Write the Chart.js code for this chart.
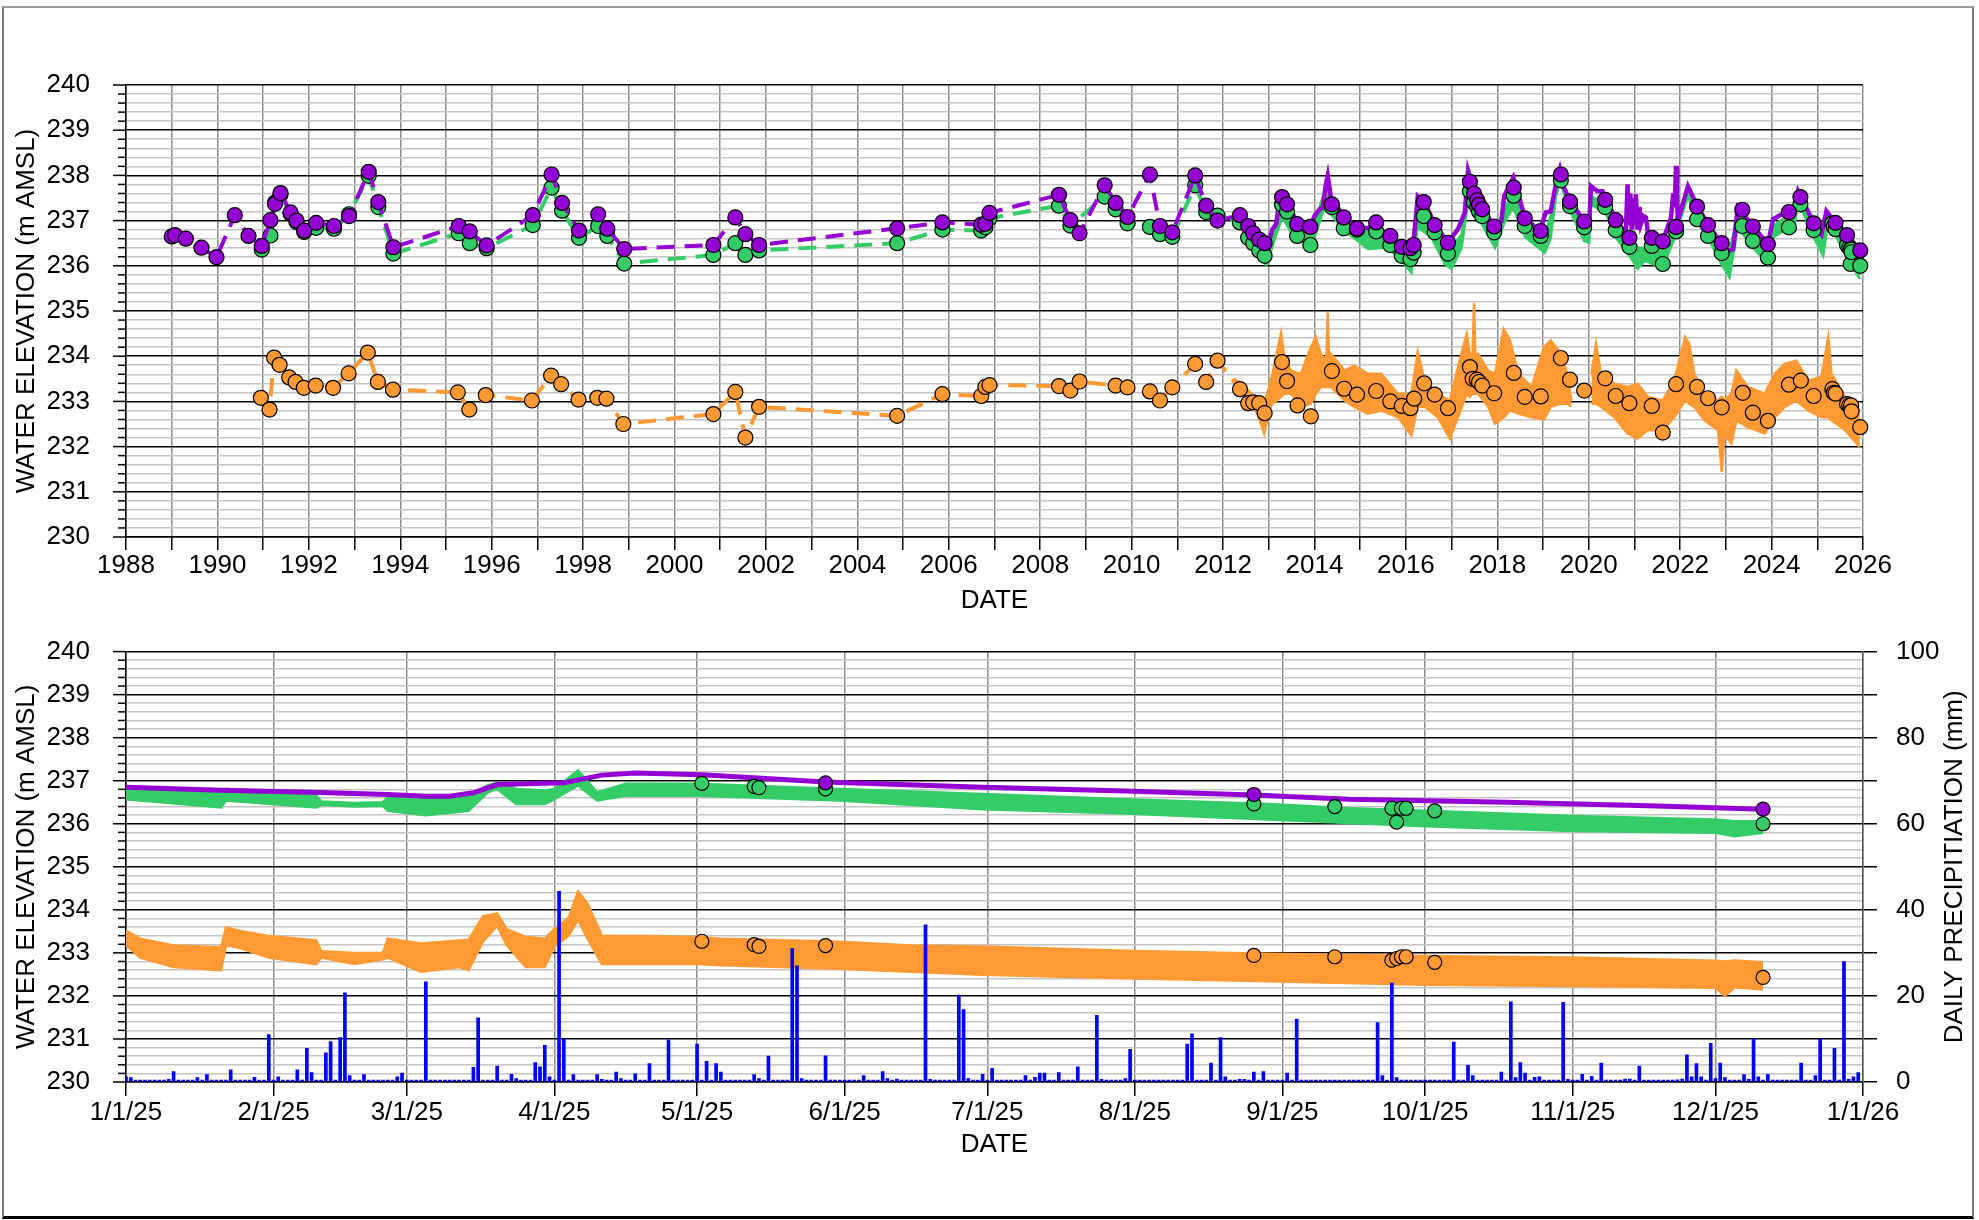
<!DOCTYPE html>
<html>
<head>
<meta charset="utf-8">
<script src="https://cdn.jsdelivr.net/npm/chart.js@4.4.1/dist/chart.umd.min.js"></script>
<style>
html,body{margin:0;padding:0;background:#fff;}
#wrap{position:relative;width:1979px;height:1220px;overflow:hidden;background:#fff;}
#frame{position:absolute;left:2px;top:6px;width:1972px;height:1213px;border-left:2px solid #7a7a7a;border-top:2px solid #9a9a9a;border-right:2px solid #7a7a7a;border-bottom:3px solid #000;box-sizing:border-box;}
canvas{position:absolute;left:0;}
#c1{top:0;}
#c2{top:600px;}
</style>
</head>
<body>
<div id="wrap">
<div id="frame"></div>
<canvas id="c1" width="1979" height="620"></canvas>
<canvas id="c2" width="1979" height="570"></canvas>
</div>
<script>
// ---------------- DATA ----------------
const topYearTicks = [1988,1989,1990,1991,1992,1993,1994,1995,1996,1997,1998,1999,2000,2001,2002,2003,2004,2005,2006,2007,2008,2009,2010,2011,2012,2013,2014,2015,2016,2017,2018,2019,2020,2021,2022,2023,2024,2025,2026];
const monthStartDays = [0,31,59,90,120,151,181,212,243,273,304,334,365];
const monthLabels = ['1/1/25','2/1/25','3/1/25','4/1/25','5/1/25','6/1/25','7/1/25','8/1/25','9/1/25','10/1/25','11/1/25','12/1/25','1/1/26'];
const precipTicks = [0,10,20,30,40,50,60,70,80,90,100];

// manual measurements [decimal year, elevation]
const purpleManual = [[1989.0,236.65],[1989.07,236.68],[1989.31,236.6],[1989.65,236.4],[1989.98,236.19],[1990.38,237.12],[1990.68,236.66],[1990.97,236.44],[1991.16,237.01],[1991.26,237.37],[1991.38,237.61],[1991.6,237.18],[1991.73,237.0],[1991.9,236.78],[1992.16,236.95],[1992.55,236.88],[1992.88,237.1],[1993.31,238.08],[1993.52,237.41],[1993.85,236.41],[1995.28,236.88],[1995.52,236.76],[1995.89,236.45],[1996.9,237.12],[1997.31,238.02],[1997.54,237.39],[1997.91,236.78],[1998.33,237.14],[1998.53,236.82],[1998.9,236.37],[2000.85,236.46],[2001.33,237.07],[2001.55,236.7],[2001.85,236.46],[2004.87,236.83],[2005.86,236.96],[2006.71,236.91],[2006.8,236.93],[2006.89,237.17],[2008.41,237.57],[2008.66,237.01],[2008.86,236.72],[2009.41,237.78],[2009.65,237.39],[2009.91,237.08],[2010.4,238.02],[2010.62,236.88],[2010.89,236.74],[2011.39,238.0],[2011.63,237.33],[2011.88,237.0],[2012.37,237.12],[2012.55,236.88],[2012.66,236.72],[2012.79,236.58],[2012.91,236.5],[2013.29,237.52],[2013.4,237.36],[2013.62,236.92],[2013.91,236.86],[2014.38,237.36],[2014.64,237.07],[2014.93,236.83],[2015.35,236.96],[2015.66,236.66],[2015.91,236.42],[2016.1,236.39],[2016.17,236.46],[2016.39,237.41],[2016.63,236.9],[2016.92,236.51],[2017.4,237.86],[2017.49,237.6],[2017.56,237.45],[2017.6,237.35],[2017.67,237.25],[2017.93,236.87],[2018.36,237.73],[2018.6,237.05],[2018.95,236.77],[2019.39,238.02],[2019.59,237.42],[2019.9,236.98],[2020.36,237.46],[2020.59,237.01],[2020.89,236.62],[2021.38,236.62],[2021.62,236.54],[2021.91,236.86],[2022.37,237.31],[2022.61,236.9],[2022.91,236.5],[2023.36,237.24],[2023.59,236.87],[2023.92,236.48],[2024.38,237.19],[2024.63,237.52],[2024.92,236.94],[2025.40,236.95],[2025.65,236.68],[2025.94,236.34]];
const greenManual = [[1990.97,236.36],[1991.16,236.67],[1991.26,237.4],[1991.38,237.58],[1991.6,237.15],[1991.73,236.97],[1991.9,236.75],[1992.16,236.84],[1992.55,236.82],[1992.88,237.14],[1993.31,237.99],[1993.52,237.3],[1993.85,236.27],[1995.28,236.72],[1995.52,236.5],[1995.89,236.39],[1996.9,236.9],[1997.31,237.73],[1997.54,237.22],[1997.91,236.62],[1998.33,236.88],[1998.53,236.66],[1998.9,236.05],[2000.85,236.24],[2001.33,236.5],[2001.55,236.24],[2001.85,236.34],[2004.87,236.5],[2005.86,236.8],[2006.71,236.78],[2006.8,236.85],[2006.89,237.05],[2008.41,237.33],[2008.66,236.89],[2009.41,237.53],[2009.65,237.25],[2009.91,236.94],[2010.4,236.86],[2010.62,236.7],[2010.89,236.64],[2011.39,237.78],[2011.63,237.19],[2011.88,237.11],[2012.37,236.96],[2012.55,236.62],[2012.66,236.5],[2012.79,236.34],[2012.91,236.22],[2013.29,237.35],[2013.4,237.2],[2013.62,236.66],[2013.91,236.46],[2014.38,237.3],[2014.64,236.83],[2014.93,236.8],[2015.35,236.76],[2015.66,236.46],[2015.91,236.22],[2016.1,236.15],[2016.17,236.29],[2016.39,237.1],[2016.63,236.74],[2016.92,236.27],[2017.4,237.65],[2017.49,237.4],[2017.56,237.3],[2017.6,237.2],[2017.67,237.1],[2017.93,236.74],[2018.36,237.55],[2018.6,236.88],[2018.95,236.66],[2019.39,237.89],[2019.59,237.32],[2019.9,236.85],[2020.36,237.3],[2020.59,236.79],[2020.89,236.42],[2021.38,236.44],[2021.62,236.04],[2021.91,236.76],[2022.37,237.03],[2022.61,236.66],[2022.91,236.28],[2023.36,236.88],[2023.59,236.55],[2023.92,236.18],[2024.38,236.85],[2024.63,237.36],[2024.92,236.79],[2025.33,236.94],[2025.36,236.87],[2025.40,236.81],[2025.65,236.46],[2025.70,236.4],[2025.73,236.36],[2025.73,236.04],[2025.74,236.36],[2025.75,236.3],[2025.94,236.0]];
const orangeManual = [[1990.95,233.08],[1991.14,232.82],[1991.24,233.97],[1991.36,233.81],[1991.57,233.53],[1991.71,233.43],[1991.89,233.3],[1992.15,233.35],[1992.53,233.3],[1992.87,233.62],[1993.29,234.08],[1993.51,233.43],[1993.84,233.26],[1995.26,233.2],[1995.51,232.82],[1995.87,233.14],[1996.88,233.02],[1997.3,233.57],[1997.52,233.38],[1997.9,233.04],[1998.31,233.08],[1998.51,233.06],[1998.88,232.5],[2000.85,232.72],[2001.33,233.21],[2001.55,232.2],[2001.85,232.88],[2004.87,232.68],[2005.86,233.16],[2006.71,233.12],[2006.8,233.32],[2006.89,233.36],[2008.41,233.34],[2008.66,233.24],[2008.86,233.44],[2009.65,233.35],[2009.91,233.31],[2010.4,233.22],[2010.62,233.02],[2010.89,233.31],[2011.39,233.83],[2011.63,233.43],[2011.88,233.9],[2012.37,233.27],[2012.55,232.96],[2012.66,232.98],[2012.79,232.96],[2012.91,232.74],[2013.29,233.87],[2013.4,233.45],[2013.63,232.91],[2013.92,232.67],[2014.38,233.67],[2014.65,233.28],[2014.93,233.15],[2015.35,233.23],[2015.66,233.0],[2015.91,232.9],[2016.1,232.85],[2016.18,233.06],[2016.4,233.4],[2016.63,233.15],[2016.92,232.85],[2017.4,233.76],[2017.46,233.5],[2017.55,233.48],[2017.6,233.43],[2017.67,233.35],[2017.93,233.18],[2018.36,233.63],[2018.6,233.1],[2018.95,233.11],[2019.39,233.96],[2019.59,233.48],[2019.9,233.24],[2020.36,233.51],[2020.59,233.12],[2020.89,232.96],[2021.38,232.9],[2021.62,232.31],[2021.91,233.38],[2022.37,233.32],[2022.61,233.07],[2022.91,232.87],[2023.37,233.19],[2023.59,232.75],[2023.92,232.57],[2024.38,233.37],[2024.64,233.46],[2024.92,233.12],[2025.33,233.27],[2025.36,233.19],[2025.40,233.17],[2025.65,232.94],[2025.70,232.91],[2025.73,232.85],[2025.74,232.91],[2025.75,232.78],[2025.94,232.43]];

// continuous logger records 2012-2025
const purpleLogger = [[2013.01,236.55],[2013.08,236.81],[2013.16,236.92],[2013.23,237.40],[2013.30,237.54],[2013.49,237.21],[2013.63,236.96],[2013.92,236.88],[2014.00,237.10],[2014.11,237.25],[2014.18,237.29],[2014.25,237.80],[2014.29,237.99],[2014.36,237.51],[2014.66,237.07],[2014.95,236.85],[2015.17,236.83],[2015.31,236.96],[2015.53,236.74],[2015.83,236.51],[2016.05,236.40],[2016.16,236.44],[2016.26,237.54],[2016.41,237.40],[2016.63,236.92],[2016.92,236.51],[2017.14,236.81],[2017.29,237.18],[2017.36,238.10],[2017.51,237.58],[2017.65,237.29],[2017.95,236.87],[2018.09,236.99],[2018.15,237.54],[2018.35,237.95],[2018.61,237.05],[2018.93,236.77],[2019.06,237.18],[2019.17,237.21],[2019.28,237.80],[2019.37,238.13],[2019.46,237.73],[2019.59,237.43],[2019.90,236.99],[2020.01,236.92],[2020.05,237.76],[2020.19,237.65],[2020.30,237.65],[2020.38,237.47],[2020.59,237.03],[2020.81,236.70],[2020.85,237.80],[2020.88,236.90],[2020.91,237.60],[2020.94,236.80],[2020.97,237.50],[2021.00,236.90],[2021.03,237.58],[2021.07,236.80],[2021.11,237.30],[2021.14,236.92],[2021.20,237.10],[2021.25,237.07],[2021.30,236.70],[2021.36,236.62],[2021.44,236.40],[2021.62,236.55],[2021.80,237.07],[2021.85,237.60],[2021.88,237.30],[2021.91,238.21],[2021.93,237.50],[2021.95,236.99],[2022.17,237.76],[2022.39,237.29],[2022.61,236.92],[2022.90,236.48],[2023.05,236.33],[2023.16,236.37],[2023.26,237.29],[2023.59,236.88],[2023.92,236.48],[2024.03,237.03],[2024.29,237.18],[2024.51,237.32],[2024.58,237.65],[2024.92,236.96],[2025.09,236.70],[2025.20,237.21],[2025.37,236.99],[2025.61,236.70],[2025.93,236.37]];
// [decimal year, upper envelope, lower envelope]
const greenLogger = [[2012.83,236.48,236.18],[2012.94,236.44,236.02],[2013.05,236.51,236.33],[2013.19,236.88,236.77],[2013.30,237.40,237.07],[2013.56,236.99,236.62],[2013.85,236.77,236.48],[2014.00,236.92,236.62],[2014.22,237.65,237.29],[2014.29,238.06,237.65],[2014.36,237.43,237.14],[2014.66,236.99,236.77],[2014.95,236.77,236.55],[2015.17,236.77,236.37],[2015.53,236.63,236.40],[2015.83,236.40,236.22],[2016.12,236.37,235.85],[2016.26,237.36,236.85],[2016.56,236.92,236.63],[2016.85,236.55,236.04],[2017.00,236.40,235.93],[2017.22,236.70,236.40],[2017.36,237.80,237.43],[2017.40,238.06,237.65],[2017.58,237.36,237.07],[2017.95,236.77,236.40],[2018.17,237.29,236.99],[2018.35,237.65,237.29],[2018.61,236.92,236.63],[2019.04,236.63,236.29],[2019.17,237.14,236.62],[2019.28,237.95,237.51],[2019.37,238.06,237.87],[2019.59,237.40,237.21],[2019.90,236.92,236.55],[2020.01,236.88,236.51],[2020.05,237.54,237.36],[2020.38,237.36,237.14],[2020.59,236.88,236.63],[2020.92,236.55,236.18],[2021.07,236.40,235.93],[2021.22,236.40,236.11],[2021.62,236.33,235.96],[2021.87,236.96,236.59],[2022.17,237.62,237.54],[2022.39,237.18,236.92],[2022.61,236.85,236.63],[2022.90,236.40,236.04],[2023.08,236.33,235.74],[2023.26,237.10,236.85],[2023.59,236.70,236.40],[2023.92,236.33,236.04],[2024.03,236.88,236.63],[2024.51,237.21,236.92],[2024.58,237.58,237.43],[2024.92,236.88,236.63],[2025.13,236.63,236.22],[2025.24,237.18,236.99],[2025.61,236.55,236.26],[2025.93,236.18,235.71]];
const orangeLogger = [[2012.24,233.50,233.45],[2012.46,233.35,233.17],[2012.75,233.02,232.73],[2012.90,232.95,232.29],[2013.01,233.32,232.80],[2013.08,233.61,232.95],[2013.27,234.51,233.10],[2013.34,233.98,233.17],[2013.49,233.68,233.17],[2013.70,233.61,232.88],[2013.92,234.20,232.95],[2014.03,234.42,233.17],[2014.14,234.05,233.32],[2014.26,233.90,233.32],[2014.29,234.97,233.32],[2014.32,233.90,233.32],[2014.36,234.05,233.32],[2014.66,233.68,233.02],[2014.87,233.79,232.88],[2015.17,233.61,232.73],[2015.46,233.61,232.80],[2015.83,233.17,232.65],[2016.12,233.17,232.25],[2016.26,234.09,232.88],[2016.41,233.46,232.88],[2016.70,233.17,232.65],[2016.96,233.02,232.18],[2017.14,233.76,232.65],[2017.33,234.49,233.17],[2017.40,234.05,233.10],[2017.46,234.00,233.17],[2017.49,235.17,233.17],[2017.52,234.00,233.17],[2017.58,234.05,233.17],[2017.80,233.68,232.88],[2017.95,233.61,232.51],[2018.14,234.60,232.65],[2018.28,234.35,232.80],[2018.46,233.61,232.73],[2018.75,233.32,232.65],[2019.02,234.20,232.60],[2019.17,234.35,232.88],[2019.39,234.05,232.95],[2019.53,233.61,232.95],[2019.62,233.02,232.88],[2019.80,null,null],[2020.06,233.61,232.95],[2020.16,234.27,232.95],[2020.27,233.61,232.88],[2020.56,233.39,232.65],[2020.85,233.32,232.29],[2021.07,233.39,232.18],[2021.29,233.10,232.36],[2021.62,233.02,232.36],[2021.87,233.46,232.65],[2022.11,234.42,233.02],[2022.20,234.27,232.95],[2022.31,233.61,232.88],[2022.53,233.17,232.58],[2022.83,233.02,232.36],[2022.91,233.10,231.44],[2022.97,233.02,232.29],[2023.12,233.17,232.07],[2023.23,233.68,232.58],[2023.48,233.32,232.43],[2023.85,233.17,232.29],[2024.07,233.61,232.65],[2024.29,233.83,232.88],[2024.54,233.90,233.02],[2024.80,233.46,232.80],[2025.09,233.54,232.65],[2025.24,234.42,232.65],[2025.31,233.61,232.58],[2025.61,233.10,232.36],[2025.93,232.80,231.99]];

// 2025 detail: [day of year (0 = 1 Jan), ...]
const purple2025 = [[0,236.85],[20,236.78],[39,236.73],[55,236.68],[63,236.64],[68,236.64],[73,236.72],[78,236.91],[92,236.95],[100,237.13],[107,237.18],[121,237.14],[147,236.97],[180,236.85],[210,236.76],[237,236.67],[257,236.57],[290,236.50],[320,236.42],[344,236.34]];
const green2025 = [[0,236.83,236.57],[20,236.73,236.38],[21,236.81,236.54],[40,236.65,236.38],[41,236.52,236.44],[48,236.48,236.40],[54,236.50,236.42],[55,236.61,236.30],[63,236.57,236.20],[72,236.65,236.30],[76,236.89,236.73],[78,236.95,236.81],[82,236.81,236.46],[88,236.77,236.46],[90,236.81,236.57],[95,237.24,236.89],[99,236.73,236.54],[105,236.93,236.65],[120,236.93,236.65],[150,236.81,236.54],[180,236.69,236.34],[210,236.57,236.24],[240,236.46,236.10],[257,236.36,236.02],[273,236.30,235.94],[304,236.18,235.83],[334,236.10,235.79],[338,236.06,235.71],[344,236.06,235.79]];
const orange2025 = [[0,233.51,233.18],[3,233.33,232.89],[10,233.17,232.67],[20,233.13,232.60],[21,233.59,233.18],[24,233.51,233.11],[30,233.39,232.89],[40,233.29,232.74],[41,233.04,232.89],[48,233.00,232.74],[54,233.00,232.85],[55,233.33,232.89],[62,233.22,232.56],[70,233.29,232.67],[72,233.30,232.60],[75,233.85,233.26],[78,233.92,233.63],[80,233.55,233.18],[84,233.37,232.67],[88,233.33,232.67],[90,233.55,233.15],[93,233.81,233.40],[95,234.43,233.77],[97,234.14,233.33],[100,233.40,232.74],[110,233.39,232.74],[120,233.37,232.74],[125,233.33,232.71],[150,233.26,232.63],[165,233.17,232.56],[180,233.15,232.49],[210,233.05,232.41],[240,232.98,232.34],[273,232.93,232.26],[304,232.89,232.23],[334,232.82,232.19],[336,232.80,232.00],[338,232.82,232.20],[344,232.78,232.15]];
const purpleManual2025 = [[147,236.95],[237,236.68],[344,236.34]];
const greenManual2025 = [[121,236.94],[132,236.87],[133,236.84],[147,236.81],[237,236.46],[254,236.40],[266,236.36],[267,236.04],[268,236.36],[269,236.36],[275,236.30],[344,236.00]];
const orangeManual2025 = [[121,233.27],[132,233.19],[133,233.15],[147,233.17],[237,232.94],[254,232.91],[266,232.83],[267,232.87],[268,232.91],[269,232.91],[275,232.78],[344,232.43]];
// daily precipitation [day of year, mm]; all other days 0
const precip2025 = [[0,1.2],[1,1.0],[9,0.6],[10,2.4],[15,1.0],[17,1.7],[22,2.8],[27,1.1],[28,0.4],[30,11.0],[32,1.2],[36,2.8],[38,7.8],[39,2.2],[42,6.8],[43,9.4],[45,10.3],[46,20.7],[47,1.5],[50,1.7],[57,1.2],[58,2.1],[63,23.3],[67,0.4],[73,3.4],[74,14.9],[78,3.7],[81,1.8],[82,0.8],[86,4.5],[87,3.5],[88,8.5],[89,1.2],[91,44.3],[92,10.0],[94,1.7],[99,1.7],[100,0.6],[103,2.3],[104,0.8],[107,1.9],[110,4.3],[114,9.8],[120,8.8],[122,4.8],[124,4.3],[125,2.3],[132,1.7],[133,0.8],[135,6.0],[140,31.0],[141,27.0],[142,0.8],[147,6.1],[155,1.5],[159,2.4],[160,0.8],[162,0.7],[168,36.5],[169,0.6],[175,20.2],[176,16.8],[177,0.8],[180,1.8],[182,3.2],[188,0.4],[189,1.5],[191,1.1],[192,2.1],[193,2.1],[196,2.2],[200,3.5],[204,15.5],[205,0.6],[210,0.8],[211,7.6],[223,8.8],[224,11.2],[228,4.4],[230,10.3],[231,1.2],[234,0.6],[235,0.6],[237,2.3],[239,2.4],[244,2.1],[246,14.6],[263,13.8],[264,1.5],[266,23.0],[267,1.0],[279,9.3],[282,3.9],[283,1.5],[289,2.3],[291,18.6],[292,1.0],[293,4.5],[294,2.1],[296,1.1],[297,1.2],[302,18.5],[303,0.6],[306,1.8],[308,1.3],[310,4.4],[315,0.7],[316,0.7],[318,3.7],[326,0.5],[327,0.7],[328,6.3],[329,1.2],[330,4.3],[331,1.2],[333,9.0],[334,0.8],[335,4.4],[336,1.0],[340,1.7],[341,0.6],[342,10.0],[343,1.2],[345,1.8],[346,0.4],[352,4.4],[355,1.5],[356,10.0],[359,7.8],[361,28.0],[362,0.6],[363,1.2],[364,2.2]];

// ---------------- STYLE ----------------
const PURPLE = '#9400D3', GREEN = '#33CC66', ORANGE = '#FF9933', BLUE = '#0000FF';
const FONT = "'Liberation Sans', Arial, Helvetica, sans-serif";
Chart.defaults.font.family = FONT;
Chart.defaults.font.size = 26;
Chart.defaults.color = '#000';

const elevTicks = [];
for (let i = 0; i <= 50; i++) elevTicks.push(Number((230 + i * 0.2).toFixed(1)));
const isMajor = v => Math.abs(v - Math.round(v)) < 1e-6;

// Chart.js draws higher "order" first (underneath)
function pts(rows, k) { return rows.map(r => ({x: r[0], y: r[k]})); }
function lineDs(rows, color, w, order) {
  return {type: 'line', order, data: pts(rows, 1), borderColor: color, borderWidth: w, pointRadius: 0, fill: false, tension: 0, spanGaps: false};
}
function bandDs(rows, color, w, order) {
  return [
    {type: 'line', order, data: pts(rows, 1), borderColor: color, backgroundColor: color, borderWidth: w, pointRadius: 0, fill: false, tension: 0, spanGaps: false},
    {type: 'line', order, data: pts(rows, 2), borderColor: color, backgroundColor: color, borderWidth: w, pointRadius: 0, fill: '-1', tension: 0, spanGaps: false}
  ];
}
function manualDs(rows, color, cut, r, order) {
  return {type: 'line', order, data: pts(rows, 1), borderColor: color, borderWidth: 4, borderDash: [18, 10],
    showLine: cut !== null, pointRadius: r, pointBackgroundColor: color, pointBorderColor: '#000', pointBorderWidth: 1.2,
    fill: false, tension: 0, clip: false,
    segment: {borderColor: c => (cut !== null && c.p0.parsed.x < cut) ? color : 'rgba(0,0,0,0)'}};
}

const axisPlugin = {
  id: 'axisTitles',
  afterDraw(chart, args, o) {
    const ctx = chart.ctx, a = chart.chartArea;
    ctx.save();
    ctx.fillStyle = '#000';
    ctx.font = '26px ' + FONT;
    ctx.textAlign = 'center';
    ctx.textBaseline = 'middle';
    const cy = (a.top + a.bottom) / 2;
    if (o.left) { ctx.save(); ctx.translate(o.leftX, cy); ctx.rotate(-Math.PI / 2); ctx.fillText(o.left, 0, 0); ctx.restore(); }
    if (o.right) { ctx.save(); ctx.translate(o.rightX, cy); ctx.rotate(-Math.PI / 2); ctx.fillText(o.right, 0, 0); ctx.restore(); }
    if (o.bottom) ctx.fillText(o.bottom, (a.left + a.right) / 2, o.bottomY);
    const ys = chart.scales.y;
    ctx.strokeStyle = '#000';
    ctx.lineWidth = 1.5;
    ys.ticks.forEach(t => {
      const p = ys.getPixelForValue(t.value);
      const len = isMajor(t.value) ? 13 : 8;
      ctx.beginPath(); ctx.moveTo(a.left - len, p); ctx.lineTo(a.left, p); ctx.stroke();
    });
    ctx.restore();
  }
};

function elevAxis() {
  return {
    type: 'linear', min: 230, max: 240, position: 'left',
    afterBuildTicks: s => { s.ticks = elevTicks.map(v => ({value: v})); },
    afterFit: s => { s.width = 126; },
    ticks: {autoSkip: false, padding: 36, callback: v => isMajor(v) ? String(Math.round(v)) : ''},
    grid: {drawTicks: false, color: c => (c.tick && isMajor(c.tick.value)) ? '#000' : '#c4c4c4', lineWidth: 1.5},
    border: {display: true, color: '#000', width: 1.5}
  };
}

// ---------------- TOP CHART ----------------
new Chart(document.getElementById('c1'), {
  type: 'line',
  data: {datasets: [
    ...bandDs(orangeLogger, ORANGE, 2.5, 10),
    ...bandDs(greenLogger, GREEN, 2.5, 9),
    lineDs(purpleLogger, PURPLE, 4.5, 8),
    manualDs(orangeManual, ORANGE, 2012.3, 7.5, 3),
    manualDs(greenManual, GREEN, 2012.3, 7.5, 2),
    manualDs(purpleManual, PURPLE, 2012.3, 7.5, 1)
  ]},
  options: {
    responsive: false, animation: false, events: [],
    layout: {padding: {top: 85, right: 116, left: 0, bottom: 0}},
    plugins: {legend: {display: false}, tooltip: {enabled: false},
      axisTitles: {left: 'WATER ELEVATION (m AMSL)', leftX: 27, bottom: 'DATE', bottomY: 601}},
    scales: {
      x: {type: 'linear', min: 1988, max: 2026, offset: false,
        afterBuildTicks: s => { s.ticks = topYearTicks.map(v => ({value: v})); },
        afterFit: s => { s.height = 83; },
        ticks: {autoSkip: false, maxRotation: 0, padding: 0, callback: v => (v % 2 === 0 ? String(v) : '')},
        grid: {color: '#8c8c8c', lineWidth: 1.5, tickLength: 13, tickColor: '#000', tickWidth: 1.5},
        border: {display: true, color: '#000', width: 1.5}},
      y: elevAxis()
    }
  },
  plugins: [axisPlugin]
});

// ---------------- BOTTOM CHART ----------------
const precipTable = [];
for (let d = 0; d < 365; d++) precipTable.push({x: d, y: 0});
precip2025.forEach(([d, mm]) => { precipTable[d].y = mm; });

new Chart(document.getElementById('c2'), {
  type: 'line',
  data: {datasets: [
    ...bandDs(orange2025, ORANGE, 2.5, 10),
    ...bandDs(green2025, GREEN, 2.5, 9),
    lineDs(purple2025, PURPLE, 5, 8),
    {type: 'bar', order: 7, data: precipTable, yAxisID: 'y1', backgroundColor: BLUE, borderWidth: 0, barThickness: 3, minBarLength: 2},
    manualDs(orangeManual2025, ORANGE, null, 7, 3),
    manualDs(greenManual2025, GREEN, null, 7, 2),
    manualDs(purpleManual2025, PURPLE, null, 7, 1)
  ]},
  options: {
    responsive: false, animation: false, events: [],
    layout: {padding: {top: 27, right: 0, left: 0, bottom: 0}},
    plugins: {legend: {display: false}, tooltip: {enabled: false},
      axisTitles: {left: 'WATER ELEVATION (m AMSL)', leftX: 27, right: 'DAILY PRECIPITIATION (mm)', rightX: 1955, bottom: 'DATE', bottomY: 545}},
    scales: {
      x: {type: 'linear', min: 0, max: 365, offset: false,
        afterBuildTicks: s => { s.ticks = monthStartDays.map(v => ({value: v})); },
        afterFit: s => { s.height = 88; },
        ticks: {autoSkip: false, maxRotation: 0, padding: 1, callback: (v, i) => monthLabels[i]},
        grid: {color: '#8c8c8c', lineWidth: 1.5, tickLength: 14, tickColor: '#000', tickWidth: 1.5, offset: false},
        border: {display: true, color: '#000', width: 1.5}},
      y: elevAxis(),
      y1: {type: 'linear', min: 0, max: 100, position: 'right',
        afterBuildTicks: s => { s.ticks = precipTicks.map(v => ({value: v})); },
        afterFit: s => { s.width = 116; },
        ticks: {autoSkip: false, padding: 19, callback: v => (v % 20 === 0 ? String(v) : '')},
        grid: {drawOnChartArea: false, tickLength: 14, color: '#000', lineWidth: 1.5},
        border: {display: true, color: '#555', width: 1.5}}
    }
  },
  plugins: [axisPlugin]
});
</script>
</body>
</html>
